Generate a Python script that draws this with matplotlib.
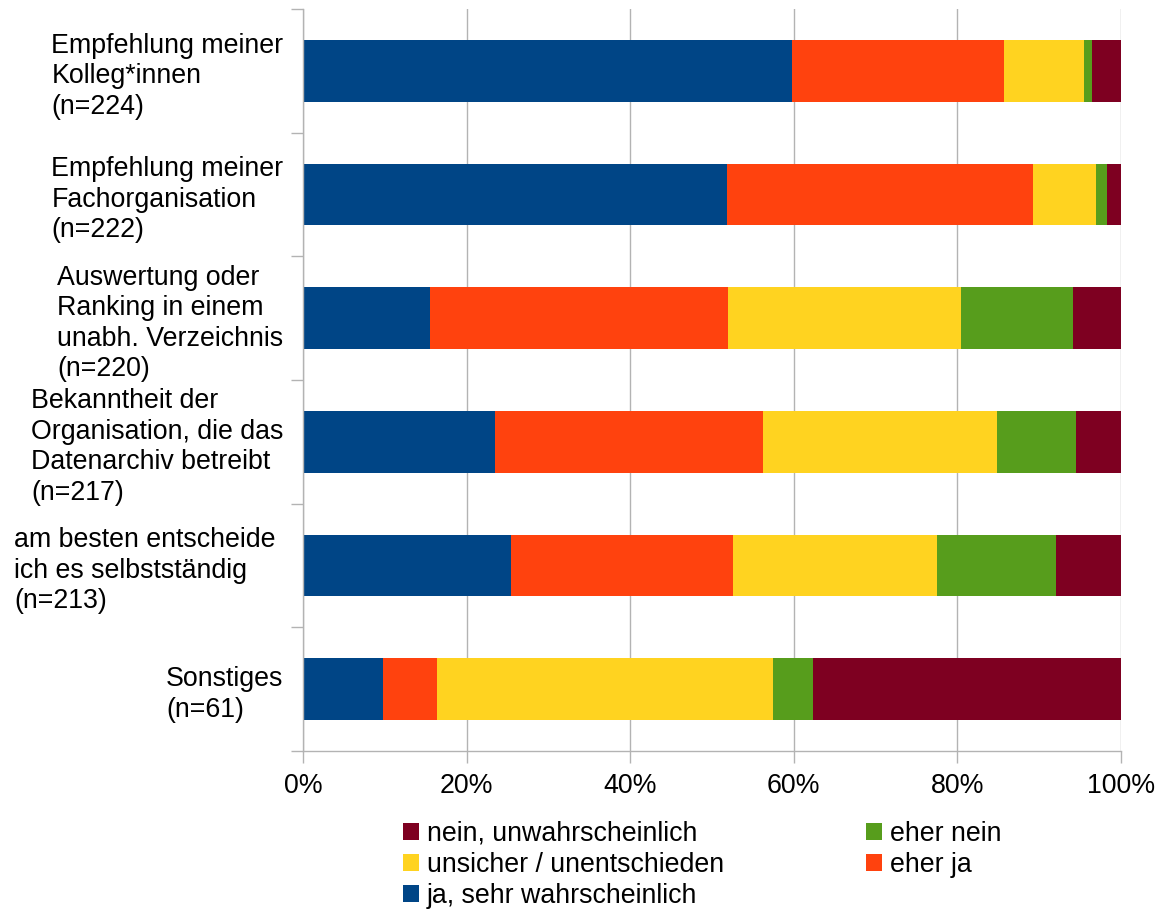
import matplotlib
matplotlib.use("Agg")
import matplotlib.pyplot as plt
import numpy as np
from matplotlib.patches import Patch
from matplotlib.transforms import blended_transform_factory

plt.rcParams['font.family'] = ['Liberation Sans', 'DejaVu Sans']

categories = [
    "Empfehlung meiner\nKolleg*innen\n(n=224)",
    "Empfehlung meiner\nFachorganisation\n(n=222)",
    "Auswertung oder\nRanking in einem\nunabh. Verzeichnis\n(n=220)",
    "Bekanntheit der\nOrganisation, die das\nDatenarchiv betreibt\n(n=217)",
    "am besten entscheide\nich es selbstständig\n(n=213)",
    "Sonstiges\n(n=61)",
]
series_names = ["ja, sehr wahrscheinlich", "eher ja", "unsicher / unentschieden",
                "eher nein", "nein, unwahrscheinlich"]
ja_sehr   = [59.8, 51.8, 15.5, 23.5, 25.4, 9.8]
eher_ja   = [25.9, 37.4, 36.4, 32.7, 27.2, 6.6]
unsicher  = [9.8, 7.7, 28.6, 28.6, 24.9, 41.0]
eher_nein = [0.9, 1.35, 13.6, 9.7, 14.6, 4.9]
nein      = [3.6, 1.8, 5.9, 5.5, 8.0, 37.7]
x_ticks = [0, 20, 40, 60, 80, 100]
x_labels = ["0%", "20%", "40%", "60%", "80%", "100%"]

colors = ["#004586", "#ff420e", "#ffd320", "#579d1c", "#7e0021"]
grid_c = "#b3b3b3"
FS = 19.3

fig = plt.figure(figsize=(11.65, 9.1), dpi=100)
ax = fig.add_axes([303/1165, 1-751/910, (1121-303)/1165, (751-9)/910])

y = np.arange(len(categories))
left = np.zeros(len(categories))
for vals, c in zip([ja_sehr, eher_ja, unsicher, eher_nein, nein], colors):
    v = np.array(vals)
    ax.barh(y, v, left=left, height=0.5, color=c, edgecolor='none', zorder=3)
    left += v

ax.set_xlim(0, 100)
ax.set_ylim(len(categories) - 0.5, -0.5)
ax.set_xticks(x_ticks)
ax.set_xticklabels(x_labels, fontsize=FS)
ax.set_yticks(y)
shown = [c if i != 4 else "" for i, c in enumerate(categories)]
ax.set_yticklabels(shown, fontsize=FS, ha='right', multialignment='left',
                   linespacing=1.23)
tr = blended_transform_factory(ax.transAxes, ax.transData)
ax.text(-27/818, y[4], categories[4], transform=tr, fontsize=FS, ha='right',
        va='center_baseline', multialignment='left', linespacing=1.23)
ax.set_yticks(np.arange(len(categories) + 1) - 0.5, minor=True)
ax.tick_params(axis='y', which='major', length=0, pad=14)
ax.tick_params(axis='y', which='minor', length=8.6, color=grid_c, width=1)
ax.tick_params(axis='x', which='major', length=8.6, color=grid_c, width=1, pad=7)
ax.xaxis.grid(True, color=grid_c, linewidth=1, zorder=0)
for s in ['top', 'right']:
    ax.spines[s].set_visible(False)
for s in ['left', 'bottom']:
    ax.spines[s].set_color(grid_c)
    ax.spines[s].set_linewidth(1)
    ax.spines[s].set_zorder(4)

order = [4, 2, 0, 3, 1]
handles = [Patch(facecolor=colors[i], edgecolor='none') for i in order]
labels = [series_names[i] for i in order]
fig.legend(handles, labels, ncol=2, loc='upper left',
           bbox_to_anchor=(403/1165, 1-821/910), frameon=False, fontsize=FS,
           handlelength=0.6, handleheight=0.6, handletextpad=0.3,
           columnspacing=5.3, labelspacing=0.19, borderpad=0, borderaxespad=0)

fig.savefig("out.png", dpi=100)
